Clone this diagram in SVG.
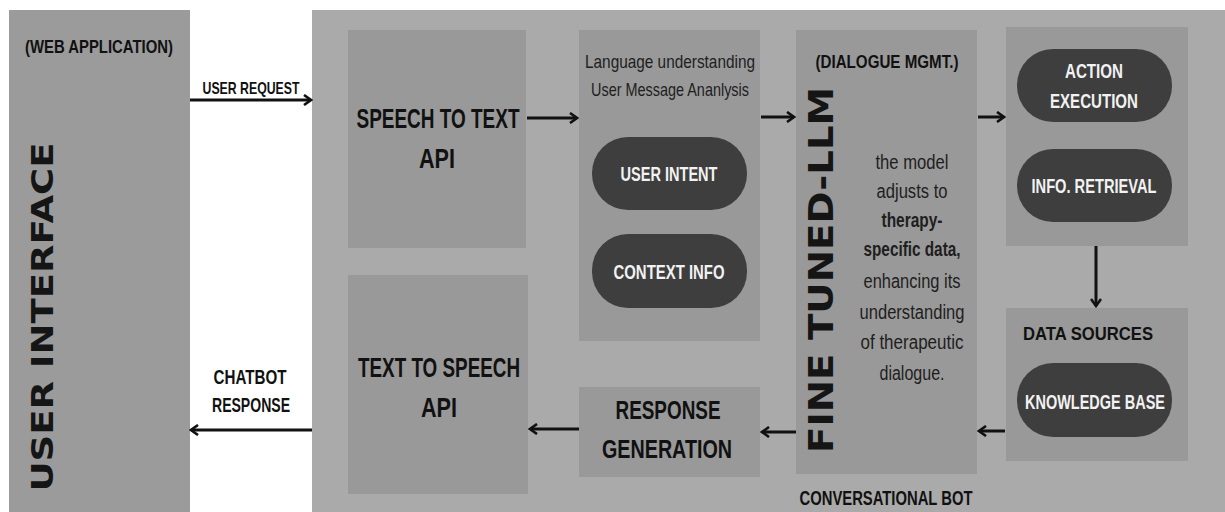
<svg xmlns="http://www.w3.org/2000/svg" width="1225" height="512" viewBox="0 0 1225 512">
<style>
.panel{fill:#9b9b9b}
.outer{fill:#aaaaaa}
.box{fill:#999999}
.pill{fill:#3e3e3e}
.t{font-family:"Liberation Sans",Arial,sans-serif;font-weight:bold;fill:#111;text-anchor:middle}
.w{font-family:"Liberation Sans",Arial,sans-serif;font-weight:bold;fill:#f2f2f2;text-anchor:middle}
.n{font-family:"Liberation Sans",Arial,sans-serif;fill:#1e1e1e;text-anchor:middle}
.big{font-family:"DejaVu Sans",sans-serif;font-weight:bold;fill:#151515;text-anchor:middle}
.c{stroke:#111;stroke-width:3;fill:none;marker-end:url(#ah)}
</style>
<defs>
<marker id="ah" viewBox="0 0 10 12" refX="8" refY="6" markerWidth="10" markerHeight="12" markerUnits="userSpaceOnUse" orient="auto">
<path d="M1,1 L8,6 L1,11" fill="none" stroke="#111" stroke-width="2.6"/>
</marker>
</defs>
<rect width="1225" height="512" fill="#ffffff"/>
<g id="user-interface">
<rect class="panel" x="9" y="10" width="181" height="502"/>
<text class="t" x="99" y="53" font-size="19" textLength="148" lengthAdjust="spacingAndGlyphs">(WEB APPLICATION)</text>
<text class="big" x="0" y="0" font-size="31" textLength="349" lengthAdjust="spacingAndGlyphs" transform="translate(53,317) rotate(-90)">USER INTERFACE</text>
</g>
<g id="conversational-bot">
<rect class="outer" x="312" y="10" width="913" height="502"/>
<text class="t" x="886" y="505" font-size="21" textLength="173" lengthAdjust="spacingAndGlyphs">CONVERSATIONAL BOT</text>
</g>
<g id="speech-to-text">
<rect class="box" x="348" y="30" width="178" height="218"/>
<text class="t" x="438" y="128" font-size="28" textLength="163" lengthAdjust="spacingAndGlyphs">SPEECH TO TEXT</text>
<text class="t" x="437" y="168" font-size="28" textLength="36" lengthAdjust="spacingAndGlyphs">API</text>
</g>
<g id="text-to-speech">
<rect class="box" x="348" y="275" width="180" height="219"/>
<text class="t" x="439" y="377" font-size="28" textLength="162" lengthAdjust="spacingAndGlyphs">TEXT TO SPEECH</text>
<text class="t" x="439" y="417" font-size="28" textLength="36" lengthAdjust="spacingAndGlyphs">API</text>
</g>
<g id="language-understanding">
<rect class="box" x="579" y="30" width="181" height="311"/>
<text class="n" x="670" y="68" font-size="19" textLength="170" lengthAdjust="spacingAndGlyphs">Language understanding</text>
<text class="n" x="670" y="96" font-size="19" textLength="158" lengthAdjust="spacingAndGlyphs">User Message Ananlysis</text>
</g>
<g id="user-intent">
<rect class="pill" x="592" y="137" width="155" height="73" rx="36"/>
<text class="w" x="669" y="181" font-size="20" textLength="97" lengthAdjust="spacingAndGlyphs">USER INTENT</text>
</g>
<g id="context-info">
<rect class="pill" x="592" y="234" width="155" height="74" rx="36"/>
<text class="w" x="669" y="279" font-size="20" textLength="111" lengthAdjust="spacingAndGlyphs">CONTEXT INFO</text>
</g>
<g id="response-generation">
<rect class="box" x="579" y="387" width="181" height="90"/>
<text class="t" x="668" y="419" font-size="26" textLength="105" lengthAdjust="spacingAndGlyphs">RESPONSE</text>
<text class="t" x="667" y="458" font-size="26" textLength="130" lengthAdjust="spacingAndGlyphs">GENERATION</text>
</g>
<g id="dialogue-management">
<rect class="box" x="796" y="30" width="181" height="444"/>
<text class="t" x="887" y="68" font-size="19" textLength="143" lengthAdjust="spacingAndGlyphs">(DIALOGUE MGMT.)</text>
<text class="big" x="0" y="0" font-size="33" textLength="366" lengthAdjust="spacingAndGlyphs" transform="translate(833,270) rotate(-90)">FINE TUNED-LLM</text>
<g class="n" font-size="20">
<text x="912" y="169" textLength="73" lengthAdjust="spacingAndGlyphs">the model</text>
<text x="912" y="198" textLength="71" lengthAdjust="spacingAndGlyphs">adjusts to</text>
<text x="912" y="227" font-weight="bold" textLength="61" lengthAdjust="spacingAndGlyphs">therapy-</text>
<text x="912" y="256" font-weight="bold" textLength="97" lengthAdjust="spacingAndGlyphs">specific data,</text>
<text x="912" y="288" textLength="97" lengthAdjust="spacingAndGlyphs">enhancing its</text>
<text x="912" y="319" textLength="105" lengthAdjust="spacingAndGlyphs">understanding</text>
<text x="912" y="349" textLength="103" lengthAdjust="spacingAndGlyphs">of therapeutic</text>
<text x="912" y="380" textLength="65" lengthAdjust="spacingAndGlyphs">dialogue.</text>
</g>
</g>
<g id="action-box">
<rect class="box" x="1006" y="27" width="182" height="219"/>
</g>
<g id="action-execution">
<rect class="pill" x="1017" y="49" width="155" height="73" rx="36"/>
<text class="w" x="1094" y="78" font-size="20" textLength="58" lengthAdjust="spacingAndGlyphs">ACTION</text>
<text class="w" x="1094" y="108" font-size="20" textLength="88" lengthAdjust="spacingAndGlyphs">EXECUTION</text>
</g>
<g id="info-retrieval">
<rect class="pill" x="1017" y="149" width="155" height="73" rx="36"/>
<text class="w" x="1094" y="193" font-size="20" textLength="125" lengthAdjust="spacingAndGlyphs">INFO. RETRIEVAL</text>
</g>
<g id="data-sources">
<rect class="box" x="1006" y="308" width="182" height="153"/>
<text class="t" x="1088" y="340" font-size="19" textLength="130" lengthAdjust="spacingAndGlyphs">DATA SOURCES</text>
</g>
<g id="knowledge-base">
<rect class="pill" x="1017" y="363" width="155" height="74" rx="36"/>
<text class="w" x="1095" y="409" font-size="20" textLength="140" lengthAdjust="spacingAndGlyphs">KNOWLEDGE BASE</text>
</g>
<g id="connectors">
<line class="c" x1="190" y1="100" x2="311" y2="100"/>
<text class="t" x="251" y="94" font-size="17" textLength="97" lengthAdjust="spacingAndGlyphs">USER REQUEST</text>
<line class="c" x1="312" y1="430" x2="191" y2="430"/>
<text class="t" x="250" y="384" font-size="20" textLength="73" lengthAdjust="spacingAndGlyphs">CHATBOT</text>
<text class="t" x="251" y="412" font-size="20" textLength="78" lengthAdjust="spacingAndGlyphs">RESPONSE</text>
<line class="c" x1="527" y1="118" x2="577" y2="118"/>
<line class="c" x1="761" y1="117" x2="794" y2="117"/>
<line class="c" x1="978" y1="117" x2="1004" y2="117"/>
<line class="c" x1="1096" y1="246" x2="1096" y2="306"/>
<line class="c" x1="1005" y1="431" x2="979" y2="431"/>
<line class="c" x1="796" y1="432" x2="762" y2="432"/>
<line class="c" x1="579" y1="429" x2="530" y2="429"/>
</g>
</svg>
